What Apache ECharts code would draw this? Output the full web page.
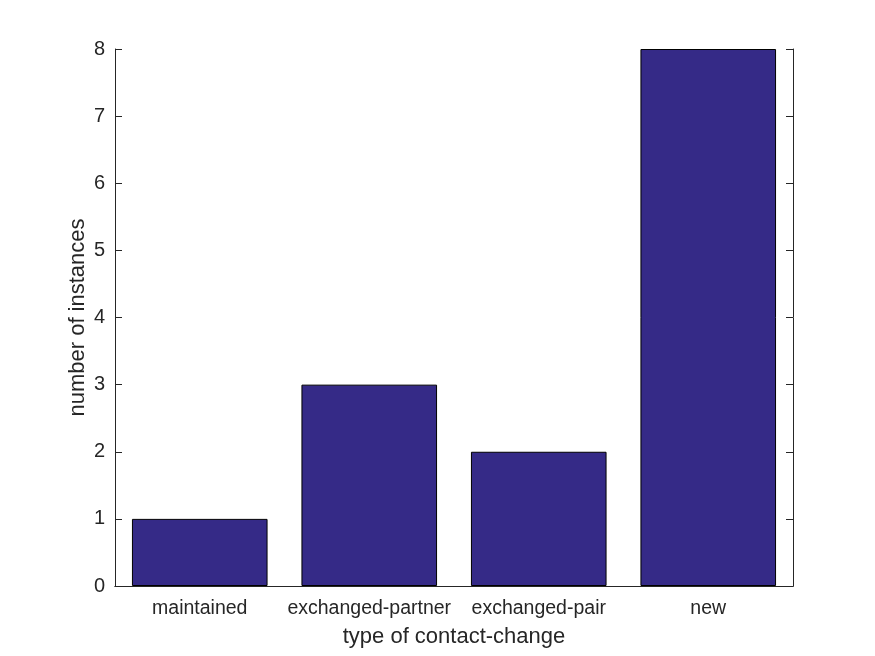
<!DOCTYPE html>
<html><head><meta charset="utf-8">
<script src="https://cdn.jsdelivr.net/npm/echarts@6/dist/echarts.min.js"></script>
<style>html,body{margin:0;padding:0;background:#fff}#c{width:875px;height:656px}</style>
</head><body><div id="c"></div>
<script>
const categories = ['maintained', 'exchanged-partner', 'exchanged-pair', 'new'];
const values = [1, 3, 2, 8];
const yTicks = [0, 1, 2, 3, 4, 5, 6, 7, 8];

const font = 'Liberation Sans, Arial, Helvetica, sans-serif';
const axisCol = '#262626';
const chart = echarts.init(document.getElementById('c'));
chart.setOption({
  animation: false,
  backgroundColor: '#fff',
  grid: { left: 115, right: 82, top: 49, bottom: 70, show: false },
  xAxis: [{
    type: 'category', data: categories, position: 'bottom',
    axisLine: { lineStyle: { color: axisCol, width: 1 } },
    axisTick: { inside: true, alignWithLabel: true, length: 6, lineStyle: { color: axisCol } },
    axisLabel: { color: axisCol, fontFamily: font, fontSize: 19.5, margin: 13, interval: 0, hideOverlap: false },
    name: 'type of contact-change', nameLocation: 'middle', nameGap: 40, nameMoveOverlap: false,
    nameTextStyle: { color: axisCol, fontFamily: font, fontSize: 22 },
    z: 10
  }, {
    type: 'category', data: categories, position: 'top',
    axisLine: { lineStyle: { color: axisCol, width: 1 } },
    axisTick: { show: false }, axisLabel: { show: false }
  }],
  yAxis: [{
    type: 'value', min: 0, max: 8, interval: 1, position: 'left',
    axisLine: { show: true, lineStyle: { color: axisCol } },
    axisTick: { show: true, inside: true, length: 7, lineStyle: { color: axisCol } },
    axisLabel: { color: axisCol, fontFamily: font, fontSize: 20, margin: 10,
      formatter: v => yTicks.includes(v) ? String(v) : '' },
    splitLine: { show: false },
    name: 'number of instances', nameLocation: 'middle', nameGap: 26, nameMoveOverlap: false,
    nameTextStyle: { color: axisCol, fontFamily: font, fontSize: 22 }
  }, {
    type: 'value', min: 0, max: 8, interval: 1, position: 'right',
    axisLine: { show: true, lineStyle: { color: axisCol } },
    axisTick: { show: true, inside: true, length: 7, lineStyle: { color: axisCol } },
    axisLabel: { show: false }, splitLine: { show: false }
  }],
  series: [{
    type: 'bar', data: values, xAxisIndex: 0, yAxisIndex: 0,
    barCategoryGap: '20%',
    itemStyle: { color: '#352a87', borderColor: '#000', borderWidth: 1 }
  }]
});
</script></body></html>
